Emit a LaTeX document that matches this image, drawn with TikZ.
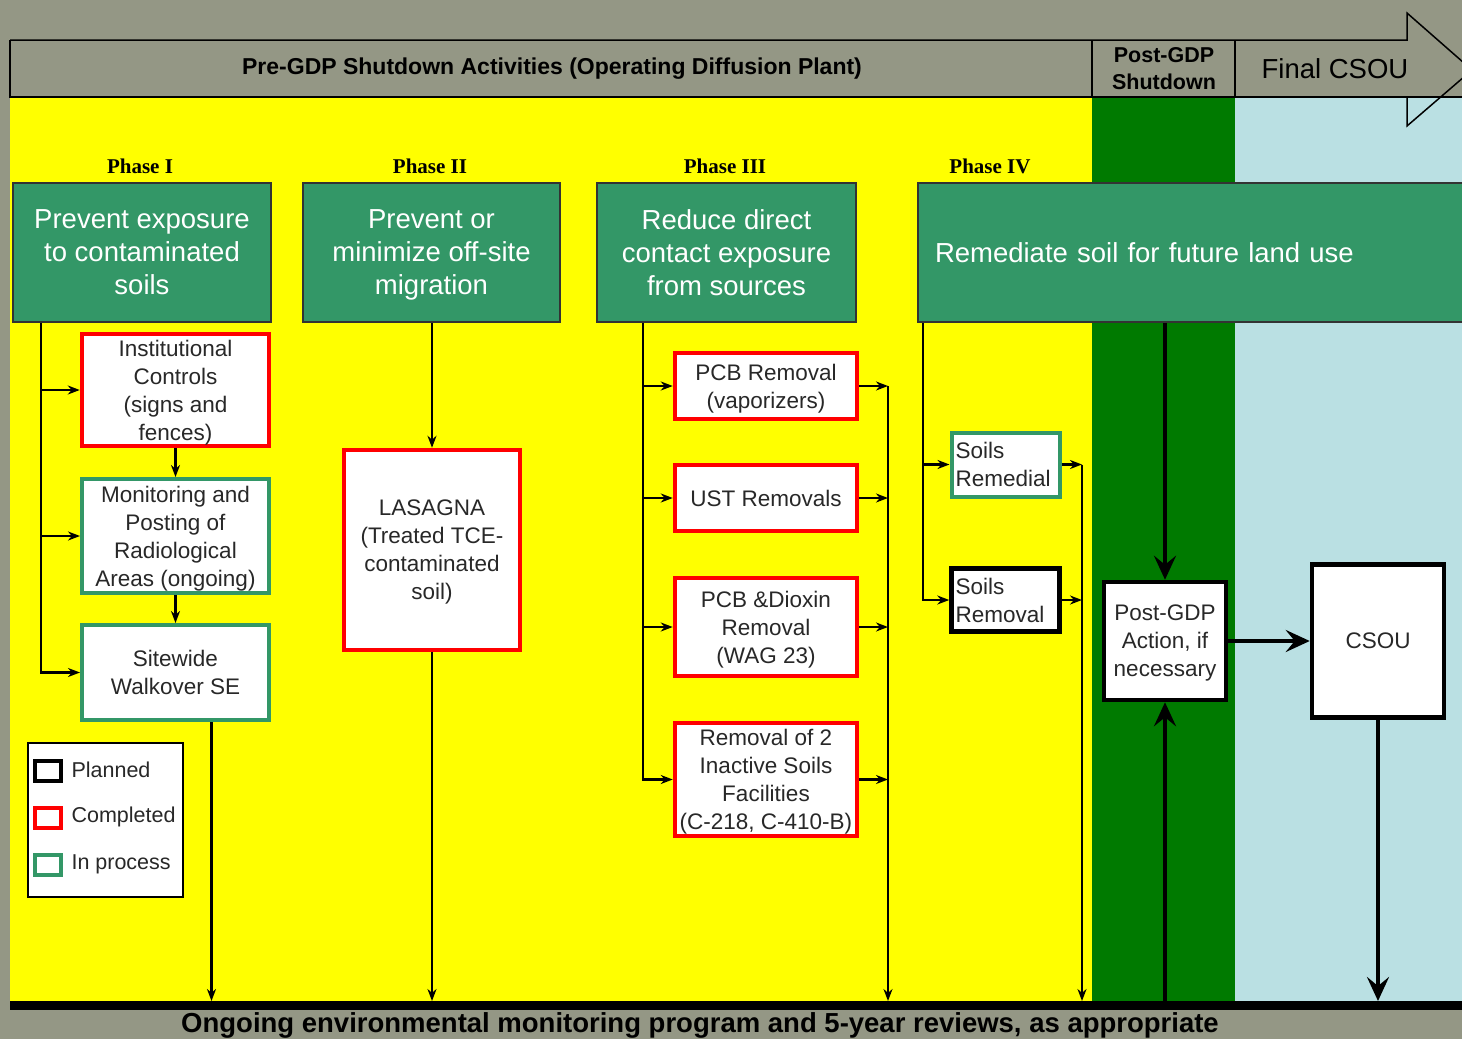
\documentclass[tikz,border=0pt]{standalone}
\usepackage{fontspec}
\setmainfont{Liberation Sans}
\newfontfamily\phasefont{Liberation Serif}
\usetikzlibrary{arrows.meta}
\definecolor{bggray}{RGB}{148,151,133}
\definecolor{preyellow}{RGB}{255,255,0}
\definecolor{postgreen}{RGB}{0,122,0}
\definecolor{finalblue}{RGB}{186,224,227}
\definecolor{goalgreen}{RGB}{51,151,103}
\definecolor{donered}{RGB}{255,0,0}
\definecolor{txtgray}{RGB}{40,40,40}

\begin{document}
\begin{tikzpicture}[x=1pt, y=-1pt,
    goalbox/.style={draw=black!80, line width=1.5pt, fill=goalgreen, text=white, align=center,
        inner sep=0pt, text depth=0pt, minimum height=139pt, font=\fontsize{27.5}{33}\selectfont},
    actbox/.style={fill=white, text=txtgray, align=center, inner sep=0pt, text depth=0pt,
        font=\fontsize{22.5}{28}\selectfont},
    donebox/.style={actbox, draw=donered, line width=4.5pt},
    procbox/.style={actbox, draw=goalgreen, line width=4pt},
    planbox/.style={actbox, draw=black, line width=4.5pt},
    soilbox/.style={align=left, text width=100pt, inner xsep=4pt, text depth={}},
    phaselabel/.style={font=\phasefont\bfseries\fontsize{21}{21}\selectfont},
    conn/.style={line width=2.2pt, -{Stealth[length=12pt, width=9pt]}},
    bigconn/.style={line width=4pt, -{Stealth[length=24pt, width=22pt, inset=9pt]}}]
\useasboundingbox (0, 0) rectangle (1462, 1039);
% background bands
\fill[bggray] (0, 0) rectangle (1462, 1039);
\fill[preyellow] (10, 97) rectangle (1092, 1001);
\fill[postgreen] (1092, 97) rectangle (1235, 1001);
\fill[finalblue] (1235, 97) rectangle (1462, 1001);
\fill[black] (10, 1001) rectangle (1462, 1010);
\coordinate (bar) at (0, 1001);

% time line arrow
\draw[line width=1.5pt] (10, 40) -- (1407, 40) -- (1407, 13) -- (1472, 70) -- (1407, 126) -- (1407, 97);
\draw[line width=1.5pt] (10, 40) -- (10, 97) -- (1462, 97);
\draw[line width=1.5pt] (1092, 40) -- (1092, 97) (1235, 40) -- (1235, 97);
\node[font=\bfseries\fontsize{23}{23}\selectfont] (bpre) at (552, 69) {Pre-GDP Shutdown Activities (Operating Diffusion Plant)};
\node[font=\bfseries\fontsize{21.5}{27}\selectfont, align=center] (bpost) at (1164, 69) {Post-GDP\\Shutdown};
\node[font=\fontsize{27.5}{27}\selectfont] (bfinal) at (1335, 69) {Final CSOU};

% phases
\node[phaselabel] (ph1) at (140, 166) {Phase I};
\node[phaselabel] (ph2) at (430, 166) {Phase II};
\node[phaselabel] (ph3) at (725, 166) {Phase III};
\node[phaselabel] (ph4) at (990, 166) {Phase IV};
\node[goalbox, minimum width=258pt] (goal1) at (142, 252.5) {Prevent exposure\\to contaminated\\soils};
\node[goalbox, minimum width=257pt] (goal2) at (431.5, 252.5) {Prevent or\\minimize off-site\\migration};
\node[goalbox, minimum width=259pt] (goal3) at (726.5, 252.5) {Reduce direct\\contact exposure\\from sources};
\node[goalbox, align=left, inner xsep=17pt, text width=535pt] (goal4) at (1202.5, 252.5) {Remediate soil for future land use};

% phase I
\node[donebox, minimum width=187pt, minimum height=112pt] (ic) at (175.5, 390) {Institutional\\Controls\\(signs and\\fences)};
\node[procbox, minimum width=187pt, minimum height=114pt] (mon) at (175.5, 536) {Monitoring and\\Posting of\\Radiological\\Areas (ongoing)};
\node[procbox, minimum width=187pt, minimum height=95pt] (walk) at (175.5, 672.5) {Sitewide\\Walkover SE};
\draw[conn] ([xshift=29pt]goal1.south west) |- (ic.west);
\draw[conn] ([xshift=29pt]goal1.south west) |- (mon.west);
\draw[conn] ([xshift=29pt]goal1.south west) |- (walk.west);
\draw[conn] (ic) -- (mon);
\draw[conn] (mon) -- (walk);
\draw[conn] ([xshift=36pt]walk.south) -- ([xshift=36pt]walk.south |- bar);

% legend
\node[draw=black, line width=1.5pt, fill=white, minimum width=155pt, minimum height=154pt] (legend) at (105.5, 820) {};
\node[draw=black, line width=4pt, minimum width=26pt, minimum height=20pt] (kplan) at (48, 771) {};
\node[draw=donered, line width=4pt, minimum width=26pt, minimum height=20pt] (kdone) at (48, 818) {};
\node[draw=goalgreen, line width=4pt, minimum width=26pt, minimum height=20pt] (kproc) at (48, 865) {};
\node[anchor=west, text=txtgray, font=\fontsize{21.5}{21}\selectfont] at (68, 770) {Planned};
\node[anchor=west, text=txtgray, font=\fontsize{21.5}{21}\selectfont] at (68, 817) {Completed};
\node[anchor=west, text=txtgray, font=\fontsize{21.5}{21}\selectfont] at (68, 864) {In process};

% phase II
\node[donebox, minimum width=176pt, minimum height=200pt] (lasagna) at (432, 550) {LASAGNA\\(Treated TCE-\\contaminated\\soil)};
\draw[conn] (lasagna |- goal2.south) -- (lasagna.north);
\draw[conn] (lasagna.south) -- (lasagna |- bar);

% phase III
\node[donebox, minimum width=182pt, minimum height=66pt] (pcb) at (766, 386) {PCB Removal\\(vaporizers)};
\node[donebox, minimum width=182pt, minimum height=66pt] (ust) at (766, 498) {UST Removals};
\node[donebox, minimum width=182pt, minimum height=98pt] (dioxin) at (766, 627) {PCB \&Dioxin\\Removal\\(WAG 23)};
\node[donebox, minimum width=182pt, minimum height=113pt] (inact) at (766, 779.5) {Removal of 2\\Inactive Soils\\Facilities\\(C-218, C-410-B)};
\coordinate (col3) at (888, 0);
\foreach \b in {pcb, ust, dioxin, inact} {
    \draw[conn] ([xshift=47pt]goal3.south west) |- (\b.west);
    \draw[conn] (\b.east) -- (\b.east -| col3);
}
\draw[conn] (pcb.east -| col3) -- (col3 |- bar);

% phase IV
\node[procbox, soilbox, minimum height=64pt] (remed) at (1005.5, 464.5) {Soils\\Remedial};
\node[planbox, soilbox, minimum height=63pt] (remov) at (1005.5, 600) {Soils\\Removal};
\coordinate (col4) at (1082, 0);
\foreach \b in {remed, remov} {
    \draw[conn] ([xshift=6pt]goal4.south west) |- (\b.west);
    \draw[conn] (\b.east) -- (\b.east -| col4);
}
\draw[conn] (remed.east -| col4) -- (col4 |- bar);

% post-GDP and final
\node[planbox, minimum width=122pt, minimum height=118pt] (post) at (1165, 641) {Post-GDP\\Action, if\\necessary};
\node[planbox, minimum width=132pt, minimum height=153pt] (csou) at (1378, 641) {CSOU};
\draw[bigconn] (post |- goal4.south) -- (post.north);
\draw[bigconn] (post |- bar) -- (post.south);
\draw[bigconn] (post.east) -- (csou.west);
\draw[bigconn] (csou.south) -- (csou |- bar);

\node[font=\bfseries\fontsize{27.5}{27}\selectfont] (ongoing) at (700, 1025) {Ongoing environmental monitoring program and 5-year reviews, as appropriate};
\end{tikzpicture}
\end{document}
